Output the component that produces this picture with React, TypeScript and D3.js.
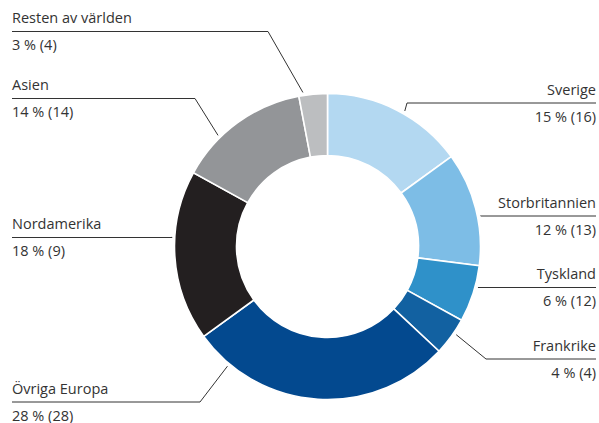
import React, { useEffect, useRef } from "react";
import * as d3 from "d3";

// Andel av försäljning per region, % (föregående år inom parentes)
const regions = [
  "Sverige",
  "Storbritannien",
  "Tyskland",
  "Frankrike",
  "Övriga Europa",
  "Nordamerika",
  "Asien",
  "Resten av världen",
];
const shares = [15, 12, 6, 4, 28, 18, 14, 3];
const prevShares = [16, 13, 12, 4, 28, 9, 14, 4];
const colors = [
  "#b3d8f1",
  "#7dbde6",
  "#2f91c9",
  "#1261a1",
  "#03498f",
  "#231f20",
  "#939598",
  "#bcbec0",
];

// label placement: side, y of the rule under the name, elbow x, where along the slice the leader touches
const labelLayout = [
  { side: "right", ruleY: 103, elbowX: 407, frac: 0.55 },
  { side: "right", ruleY: 216, elbowX: 481, frac: 0.57 },
  { side: "right", ruleY: 287.5, elbowX: 478, frac: 0.37 },
  { side: "right", ruleY: 359, elbowX: 486, frac: 0.39 },
  { side: "left", ruleY: 402, elbowX: 200, frac: 0.86 },
  { side: "left", ruleY: 237.5, elbowX: 172, frac: 0.61 },
  { side: "left", ruleY: 98.5, elbowX: 195, frac: 0.33 },
  { side: "left", ruleY: 31.5, elbowX: 268, frac: 0.16 },
];

const width = 599, height = 423;

const App = () => {
  const svgRef = useRef<SVGSVGElement>(null);

  useEffect(() => {
    const svg = d3.select(svgRef.current);
    svg.selectAll("*").remove();

    const cx = 327.5, cy = 246.5;
    const outerR = 153, innerR = 91;
    const leftX = 12, rightX = 596;

    const data = regions.map((r, i) => ({ region: r, share: shares[i], prev: prevShares[i], i }));

    const pie = d3.pie<any>().value(d => d.share).sort(null);
    const arcs = pie(data);
    const arc = d3.arc<any>().innerRadius(innerR).outerRadius(outerR);

    const g = svg.append("g").attr("transform", `translate(${cx},${cy})`);

    g.selectAll("path")
      .data(arcs)
      .enter()
      .append("path")
      .attr("d", arc)
      .attr("fill", d => colors[d.data.i])
      .attr("stroke", "#fff")
      .attr("stroke-width", 1.6);

    const font = "'Open Sans', sans-serif";
    const textColor = "#333";

    arcs.forEach(a => {
      const lay = labelLayout[a.data.i];
      const ang = a.startAngle + (a.endAngle - a.startAngle) * lay.frac;
      const r = outerR + 3;
      const px = cx + r * Math.sin(ang);
      const py = cy - r * Math.cos(ang);
      const edgeX = lay.side === "left" ? leftX : rightX;

      svg.append("polyline")
        .attr("points", `${edgeX},${lay.ruleY} ${lay.elbowX},${lay.ruleY} ${px},${py}`)
        .attr("fill", "none")
        .attr("stroke", "#333")
        .attr("stroke-width", 1);

      const anchor = lay.side === "left" ? "start" : "end";
      svg.append("text")
        .attr("x", edgeX)
        .attr("y", lay.ruleY - 8.5)
        .attr("text-anchor", anchor)
        .attr("font-family", font)
        .attr("font-size", 14.5)
        .attr("fill", textColor)
        .text(a.data.region);

      svg.append("text")
        .attr("x", edgeX)
        .attr("y", lay.ruleY + 18.5)
        .attr("text-anchor", anchor)
        .attr("font-family", font)
        .attr("font-size", 14.5)
        .attr("fill", textColor)
        .text(`${a.data.share} % (${a.data.prev})`);
    });
  }, []);

  return (
    <svg
      ref={svgRef}
      width={width}
      height={height}
      style={{ position: "absolute", left: 0, top: 0, background: "#fff" }}
    ></svg>
  );
};

export default App;
